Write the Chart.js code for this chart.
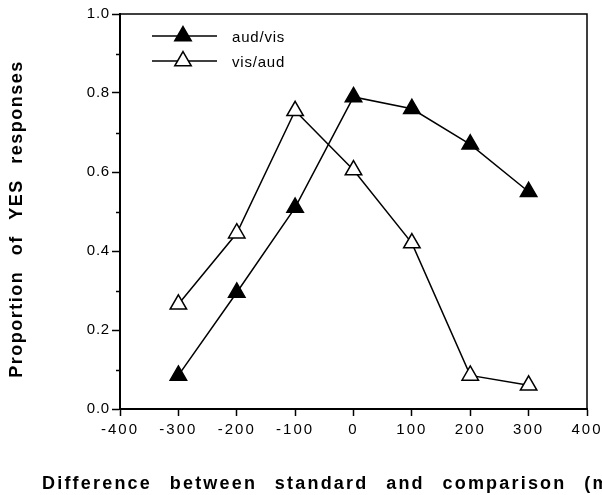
<!DOCTYPE html>
<html>
<head>
<meta charset="utf-8">
<script src="https://cdn.jsdelivr.net/npm/chart.js@4/dist/chart.umd.min.js"></script>
<style>
  html, body { margin: 0; padding: 0; background: #fff; }
  #wrap { width: 602px; height: 495px; }
</style>
</head>
<body>
<div id="wrap"><canvas id="respChart" width="602" height="495"></canvas></div>
<script>
// Difference between standard and comparison (ms)
const diffs = [-300, -200, -100, 0, 100, 200, 300];
// Proportion of YES responses per condition
const audVis = [0.085, 0.295, 0.51, 0.79, 0.76, 0.67, 0.55];
const visAud = [0.265, 0.445, 0.755, 0.605, 0.42, 0.085, 0.06];
const xTicks = [-400, -300, -200, -100, 0, 100, 200, 300, 400];
const yTicks = ['0.0', '0.2', '0.4', '0.6', '0.8', '1.0'];

const FONT = '"Liberation Sans", Arial, Helvetica, sans-serif';

const toPoints = (vals) => vals.map((v, i) => ({ x: diffs[i], y: v }));

// Spread tick label glyphs a little, like the printed figure
const tickSpacing = {
    id: 'tickSpacing',
    afterLayout(chart) {
        [['x', '2px'], ['y', '0.8px']].forEach(([id, sp]) => {
            const scale = chart.scales[id];
            if (!scale || scale._spaced) return;
            const draw = scale.drawLabels;
            scale.drawLabels = function (area) {
                this.ctx.save();
                this.ctx.letterSpacing = sp;
                draw.call(this, area);
                this.ctx.restore();
            };
            scale._spaced = true;
        });
    }
};

// Box around plot, minor y ticks, axis titles and the inset legend
const decorations = {
    id: 'decorations',
    afterDraw(chart) {
        const ctx = chart.ctx;
        const area = chart.chartArea;
        const ys = chart.scales.y;

        ctx.save();
        ctx.strokeStyle = '#000';
        ctx.lineWidth = 1.5;
        ctx.beginPath();
        ctx.moveTo(area.left, area.top);
        ctx.lineTo(area.right, area.top);
        ctx.lineTo(area.right, area.bottom);
        ctx.stroke();

        // short unlabelled ticks halfway between the labelled ones
        for (let v = 0.1; v < 1; v += 0.2) {
            const py = Math.round(ys.getPixelForValue(v)) + 0.5;
            ctx.beginPath();
            ctx.moveTo(area.left - 4, py);
            ctx.lineTo(area.left, py);
            ctx.stroke();
        }

        ctx.fillStyle = '#000';
        ctx.font = 'bold 18px ' + FONT;
        ctx.textAlign = 'left';
        ctx.textBaseline = 'alphabetic';
        ctx.letterSpacing = '2.2px';
        ctx.wordSpacing = '10.5px';
        ctx.fillText('Difference between standard and comparison (ms)', 42, 489);

        ctx.save();
        ctx.letterSpacing = '1.5px';
        ctx.wordSpacing = '9px';
        ctx.translate(22, 219);
        ctx.rotate(-Math.PI / 2);
        ctx.textAlign = 'center';
        ctx.fillText('Proportion of YES responses', 0, 0);
        ctx.restore();

        // legend
        ctx.letterSpacing = '0.8px';
        ctx.wordSpacing = '0px';
        ctx.font = '15px ' + FONT;
        ctx.textBaseline = 'middle';
        chart.data.datasets.forEach((ds, i) => {
            const ly = area.top + 22 + i * 25;
            const cx = 183;
            const r = ds.pointRadius;
            ctx.lineWidth = 1.5;
            ctx.strokeStyle = '#000';
            ctx.beginPath();
            ctx.moveTo(152, ly);
            ctx.lineTo(217, ly);
            ctx.stroke();
            ctx.fillStyle = ds.pointBackgroundColor;
            ctx.lineWidth = ds.pointBorderWidth;
            ctx.beginPath();
            ctx.moveTo(cx, ly - r);
            ctx.lineTo(cx + r * Math.sin(Math.PI * 2 / 3), ly - r * Math.cos(Math.PI * 2 / 3));
            ctx.lineTo(cx - r * Math.sin(Math.PI * 2 / 3), ly - r * Math.cos(Math.PI * 2 / 3));
            ctx.closePath();
            ctx.fill();
            ctx.stroke();
            ctx.fillStyle = '#000';
            ctx.fillText(ds.label, 232, ly + 2);
        });
        ctx.restore();
    }
};

new Chart(document.getElementById('respChart'), {
    type: 'line',
    data: {
        datasets: [
            {
                label: 'aud/vis',
                data: toPoints(audVis),
                borderColor: '#000',
                borderWidth: 1.5,
                pointStyle: 'triangle',
                pointRadius: 9.5,
                pointBorderWidth: 1.5,
                pointBackgroundColor: '#000',
                pointBorderColor: '#000',
                tension: 0
            },
            {
                label: 'vis/aud',
                data: toPoints(visAud),
                borderColor: '#000',
                borderWidth: 1.5,
                pointStyle: 'triangle',
                pointRadius: 9.5,
                pointBorderWidth: 1.5,
                pointBackgroundColor: '#fff',
                pointBorderColor: '#000',
                tension: 0
            }
        ]
    },
    options: {
        responsive: false,
        animation: false,
        layout: { padding: { left: 0, right: 15, top: 14, bottom: 0 } },
        plugins: {
            legend: { display: false },
            tooltip: { enabled: false }
        },
        scales: {
            x: {
                type: 'linear',
                min: -400,
                max: 400,
                afterBuildTicks: (scale) => {
                    scale.ticks = xTicks.map(v => ({ value: v }));
                },
                afterFit: (scale) => {
                    scale.height = 86;
                    scale.paddingLeft = 0;
                    scale.paddingRight = 0;
                },
                border: { display: true, color: '#000', width: 2 },
                grid: {
                    drawOnChartArea: false,
                    drawTicks: true,
                    tickLength: 7,
                    tickColor: '#000',
                    tickWidth: 1.5
                },
                ticks: {
                    color: '#000',
                    padding: 5,
                    maxRotation: 0,
                    font: { family: FONT, size: 15 },
                    callback: (v) => String(v)
                }
            },
            y: {
                min: 0,
                max: 1,
                afterBuildTicks: (scale) => {
                    scale.ticks = yTicks.map(t => ({ value: parseFloat(t) }));
                },
                afterFit: (scale) => { scale.width = 120; },
                border: { display: true, color: '#000', width: 2 },
                grid: {
                    drawOnChartArea: false,
                    drawTicks: true,
                    tickLength: 8,
                    tickColor: '#000',
                    tickWidth: 1.5
                },
                ticks: {
                    color: '#000',
                    padding: 2,
                    font: { family: FONT, size: 15 },
                    callback: (v) => yTicks.find(t => parseFloat(t) === v)
                }
            }
        }
    },
    plugins: [tickSpacing, decorations]
});
</script>
</body>
</html>
